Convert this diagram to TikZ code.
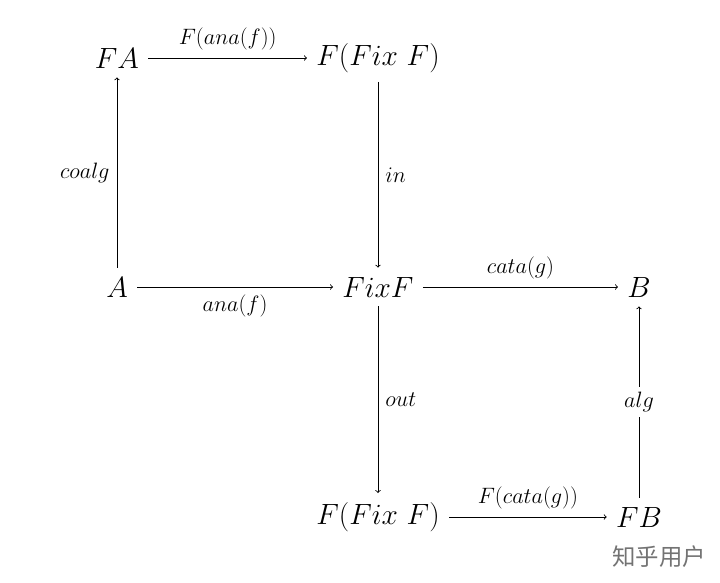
\RequirePackage{fix-cm}
\documentclass[tikz,border=0pt]{standalone}
\usepackage{fontspec}
\newfontfamily\cjkf{Noto Sans CJK SC}
\begin{document}
\begin{tikzpicture}[x=0.03cm,y=-0.03cm,
  obj/.style={font=\fontsize{25}{30}\selectfont, inner sep=0pt, outer sep=8pt},
  lab/.style={font=\fontsize{19}{23}\selectfont, inner sep=6pt},
  ar/.style={->, line width=0.75pt}]
\useasboundingbox (0,0) rectangle (720,583);
\node[obj] (FA) at (117,58) {$FA$};
\node[obj] (FFt) at (378,58) {$F(Fix\ F)$};
\node[obj] (A) at (117,287) {$A$};
\node[obj] (Fix) at (378,287) {$FixF$};
\node[obj] (B) at (639,287) {$B$};
\node[obj] (FFb) at (378,517) {$F(Fix\ F)$};
\node[obj] (FB) at (639,517) {$FB$};
\draw[ar] (FA) -- node[lab, above] {$F(ana(f))$} (FFt);
\draw[ar] (A) -- node[lab, left] {$coalg$} (FA);
\draw[ar] (FFt) -- node[lab, right] {$in$} (Fix);
\draw[ar] (A) -- node[lab, below] {$ana(f)$} (Fix);
\draw[ar] (Fix) -- node[lab, above] {$cata(g)$} (B);
\draw[ar] (Fix) -- node[lab, right] {$out$} (FFb);
\draw[ar] (FB) -- node[lab, fill=white, inner sep=4pt] {$alg$} (B);
\draw[ar] (FFb) -- node[lab, above] {$F(cata(g))$} (FB);
\node[font=\cjkf\fontsize{20}{24}\selectfont, text=black!55] (wm) at (659,557) {知乎用户};
\end{tikzpicture}
\end{document}
